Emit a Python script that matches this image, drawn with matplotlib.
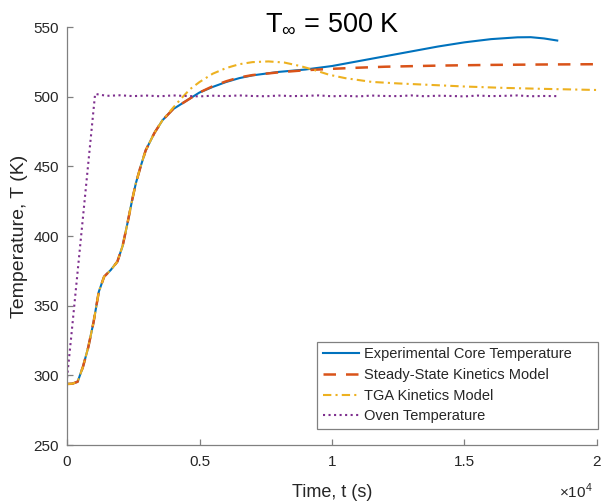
import matplotlib
matplotlib.use("Agg")
import matplotlib.pyplot as plt

plt.rcParams['font.family'] = ['Liberation Sans', 'DejaVu Sans']
plt.rcParams['mathtext.fontset'] = 'custom'
plt.rcParams['mathtext.rm'] = 'Liberation Sans'

# shared start-up transient (all three temperature curves coincide here)
t_rise = [0, 200, 400, 600, 800, 1000, 1200, 1400, 1650, 1900, 2100, 2280,
          2460, 2600, 2780, 2970, 3300, 3600]
T_rise = [293.8, 294.0, 295.4, 306.0, 320.0, 338.0, 360.0, 370.8, 375.6, 381.6,
          393.0, 409.0, 426.0, 438.0, 450.0, 461.5, 474.0, 483.0]

# experimental core temperature
t_exp = [4000, 4500, 5000, 5500, 6000, 6500, 7000, 8000, 9000, 10000, 11000,
         12000, 13000, 14000, 15000, 16000, 17000, 17500, 18000, 18500]
T_exp = [491.0, 497.0, 503.0, 507.0, 510.5, 513.3, 515.3, 517.8, 519.5, 522.0,
         525.5, 529.0, 532.5, 536.0, 539.0, 541.3, 542.6, 542.7, 541.8, 540.3]

# steady-state kinetics model
t_ss = [4000, 4500, 5000, 5500, 6000, 6500, 7000, 8000, 9000, 10000, 11000,
        12000, 14000, 16000, 18000, 20000]
T_ss = [491.0, 497.0, 503.0, 507.5, 511.0, 513.8, 515.5, 517.5, 519.0, 520.0,
        520.8, 521.5, 522.3, 522.8, 523.1, 523.3]

# TGA kinetics model
t_tga = [4000, 4300, 4650, 5000, 5500, 6000, 6500, 7000, 7600, 8200, 8800,
         9300, 9900, 10500, 11500, 12500, 14000, 15000, 16500, 18000, 20000]
T_tga = [492.0, 498.5, 505.5, 510.5, 516.5, 520.5, 523.3, 524.8, 525.3, 524.5,
         522.0, 519.3, 515.7, 513.3, 510.6, 509.5, 508.2, 507.3, 506.3, 505.6,
         504.8]

# oven temperature
t_oven = [0, 150, 1060, 1500, 2000, 2500, 3000, 3500, 4000, 4500, 5000, 5500,
          6000, 6500, 7000, 7500, 8000, 8500, 9000, 9500, 10000, 10500, 11000,
          11500, 12000, 12500, 13000, 13500, 14000, 14500, 15000, 15500, 16000,
          16500, 17000, 17500, 18000, 18500]
T_oven = [298.0, 326.0, 502.0, 500.6, 501.0, 500.4, 500.8, 500.3, 500.9, 500.5,
          500.2, 500.7, 500.4, 500.9, 500.5, 500.3, 500.8, 500.4, 500.6, 500.9,
          500.3, 500.6, 500.2, 500.8, 500.5, 500.4, 500.9, 500.3, 500.7, 500.5,
          500.2, 500.8, 500.4, 500.6, 500.9, 500.3, 500.5, 500.4]

fig = plt.figure(figsize=(6.01, 5.03), dpi=100)
ax = fig.add_axes([0.1115, 0.1153, 0.8818, 0.831])

ax.plot(t_rise + t_exp, T_rise + T_exp, color='#0072BD', lw=1.5,
        label='Experimental Core Temperature')
ax.plot(t_rise + t_ss, T_rise + T_ss, color='#D95319', lw=1.8,
        dashes=(5, 4), label='Steady-State Kinetics Model')
ax.plot(t_rise + t_tga, T_rise + T_tga, color='#EDB120', lw=1.5,
        dashes=(4, 2, 1, 2), label='TGA Kinetics Model')
ax.plot(t_oven, T_oven, color='#7E2F8E', lw=1.5, ls=':',
        label='Oven Temperature')

ax.set_xlim(0, 20000)
ax.set_ylim(250, 550)
ax.set_xticks([0, 5000, 10000, 15000, 20000])
ax.set_xticklabels(['0', '0.5', '1', '1.5', '2'])
ax.set_yticks([250, 300, 350, 400, 450, 500, 550])

for side in ['top', 'right']:
    ax.spines[side].set_visible(False)
for side in ['left', 'bottom']:
    ax.spines[side].set_color('#808080')
    ax.spines[side].set_linewidth(0.9)
ax.tick_params(direction='in', length=4, width=0.9, color='#808080',
               labelsize=11, labelcolor='#262626')
ax.tick_params(axis='x', pad=7)
ax.tick_params(axis='y', pad=6)

ax.set_xlabel('Time, t (s)', fontsize=13, color='#262626', labelpad=11)
ax.set_ylabel('Temperature, T (K)', fontsize=14, color='#262626', labelpad=4)
fig.text(593 / 601, (503 - 498) / 503, r'$\times10^{4}$', ha='right',
         va='baseline', fontsize=11, color='#262626')

fig.text(332 / 601, (503 - 30) / 503, r'T$_{\infty}$ = 500 K', ha='center',
         va='baseline', fontsize=19.5, color='black')

# legend box stretched to a fixed width, entries packed on the left
leg = ax.legend(loc='lower left',
                bbox_to_anchor=(317 / 601, 74 / 503, 281 / 601, 85 / 503),
                bbox_transform=fig.transFigure, borderaxespad=0, mode='expand',
                fancybox=False, fontsize=10.5, handlelength=2.5,
                handletextpad=0.35, labelspacing=0.45, framealpha=1)
leg.get_frame().set_edgecolor('#808080')
leg.get_frame().set_linewidth(0.9)
for txt in leg.get_texts():
    txt.set_color('#262626')

fig.savefig('out.png', dpi=100)
